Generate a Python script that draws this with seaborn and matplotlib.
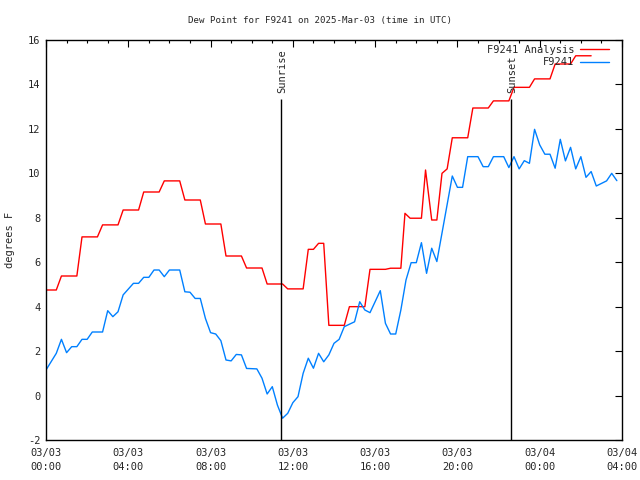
import matplotlib
matplotlib.use("Agg")
import matplotlib.pyplot as plt
import seaborn as sns
import pandas as pd
from matplotlib.lines import Line2D

# ---- data (hours after 2025-03-03 00:00 UTC, dew point in deg F) ----
analysis_hours = [0, 0.5, 0.75, 1.5, 1.75, 2.5, 2.75, 3.5, 3.75, 4.5, 4.75, 5.5, 5.75,
                  6.5, 6.75, 7.5, 7.75, 8.5, 8.75, 9.5, 9.75, 10.5, 10.75, 11.5, 11.75,
                  12.5, 12.75, 13.0, 13.25, 13.5, 13.75, 14.5, 14.75, 15.5, 15.75, 16.5,
                  16.75, 17.25, 17.45, 17.7, 18.25, 18.45, 18.75, 19.0, 19.25, 19.5,
                  19.75, 20.5, 20.75, 21.5, 21.75, 22.5, 22.75, 23.5, 23.75, 24.5,
                  24.75, 25.5, 25.75, 26.5]
analysis_dewpt = [4.75, 4.75, 5.38, 5.38, 7.14, 7.14, 7.68, 7.68, 8.35, 8.35, 9.16, 9.16,
                  9.66, 9.66, 8.8, 8.8, 7.72, 7.72, 6.28, 6.28, 5.74, 5.74, 5.02, 5.02,
                  4.8, 4.8, 6.58, 6.58, 6.85, 6.85, 3.16, 3.16, 4.0, 4.0, 5.68, 5.68,
                  5.73, 5.73, 8.2, 7.98, 7.98, 10.15, 7.9, 7.9, 10.0, 10.2, 11.6, 11.6,
                  12.94, 12.94, 13.26, 13.26, 13.87, 13.87, 14.25, 14.25, 14.92, 14.92,
                  15.29, 15.29]

obs_hours = [0.0, 0.5, 0.75, 1.0, 1.25, 1.5, 1.75, 2.0, 2.25, 2.75, 3.0, 3.25, 3.5, 3.75,
             4.25, 4.5, 4.75, 5.0, 5.25, 5.5, 5.75, 6.0, 6.5, 6.75, 7.0, 7.25, 7.5, 7.75,
             8.0, 8.25, 8.5, 8.75, 9.0, 9.25, 9.5, 9.75, 10.25, 10.5, 10.75, 11.0, 11.25,
             11.5, 11.75, 12.0, 12.25, 12.5, 12.75, 13.0, 13.25, 13.5, 13.75, 14.0, 14.25,
             14.5, 15.0, 15.25, 15.5, 15.75, 16.25, 16.5, 16.75, 17.0, 17.25, 17.5, 17.75,
             18.0, 18.25, 18.5, 18.75, 19.0, 19.75, 20.0, 20.25, 20.5, 21.0, 21.25, 21.5,
             21.75, 22.25, 22.5, 22.75, 23.0, 23.25, 23.5, 23.75, 24.0, 24.25, 24.5, 24.75,
             25.0, 25.25, 25.5, 25.75, 26.0, 26.25, 26.5, 26.75, 27.25, 27.5, 27.75]
obs_dewpt = [1.15, 1.9, 2.53, 1.93, 2.2, 2.2, 2.53, 2.53, 2.86, 2.86, 3.82, 3.55, 3.77, 4.53,
             5.05, 5.05, 5.32, 5.32, 5.65, 5.65, 5.35, 5.65, 5.65, 4.67, 4.65, 4.37, 4.37, 3.47,
             2.83, 2.77, 2.47, 1.6, 1.56, 1.85, 1.83, 1.22, 1.2, 0.78, 0.07, 0.4, -0.43,
             -1.02, -0.8, -0.32, -0.05, 1.0, 1.68, 1.23, 1.9, 1.52, 1.83, 2.35, 2.53,
             3.1, 3.32, 4.22, 3.85, 3.73, 4.72, 3.25, 2.77, 2.77, 3.85, 5.2, 5.98,
             5.98, 6.88, 5.5, 6.63, 6.03, 9.88, 9.37, 9.37, 10.75, 10.75, 10.3, 10.3,
             10.75, 10.75, 10.26, 10.75, 10.2, 10.57, 10.45, 11.98, 11.28, 10.86, 10.86, 10.23,
             11.53, 10.56, 11.17, 10.2, 10.75, 9.82, 10.08, 9.43, 9.66, 10.0, 9.67]

series_names = ["F9241 Analysis", "F9241"]
series_colors = ["#ff0000", "#0080ff"]
sunrise_hour = 11.42
sunset_hour = 22.6
sun_line_top = 13.35
xtick_hours = [0, 4, 8, 12, 16, 20, 24, 28]
xtick_labels = ["03/03\n00:00", "03/03\n04:00", "03/03\n08:00", "03/03\n12:00",
                "03/03\n16:00", "03/03\n20:00", "03/04\n00:00", "03/04\n04:00"]
yticks = [-2, 0, 2, 4, 6, 8, 10, 12, 14, 16]
title = "Dew Point for F9241 on 2025-Mar-03 (time in UTC)"

df = pd.concat([
    pd.DataFrame({"hour": analysis_hours, "dewpt": analysis_dewpt, "series": series_names[0]}),
    pd.DataFrame({"hour": obs_hours, "dewpt": obs_dewpt, "series": series_names[1]}),
], ignore_index=True)

sns.set_style("white")
plt.rcParams["font.family"] = ["DejaVu Sans Mono", "DejaVu Sans"]
fs = 7.5

fig = plt.figure(figsize=(6.4, 4.8), dpi=100)
ax = fig.add_axes([46 / 640, 40 / 480, 576 / 640, 400 / 480])

palette = dict(zip(series_names, series_colors))
sns.lineplot(data=df, x="hour", y="dewpt", hue="series", palette=palette,
             sort=False, estimator=None, linewidth=1.0, ax=ax, legend=False)

ax.set_xlim(0, 28)
ax.set_ylim(-2, 16)
ax.set_xticks(xtick_hours)
ax.set_xticklabels(xtick_labels, fontsize=fs, linespacing=1.5)
ax.set_xticks(range(0, 29), minor=True)
ax.set_yticks(yticks)
ax.set_yticklabels([str(v) for v in yticks], fontsize=fs)
ax.tick_params(axis="both", which="both", direction="in", top=True, right=True,
               color="black", width=0.8)
ax.tick_params(axis="both", which="major", length=5)
ax.tick_params(axis="x", which="minor", length=2.5)
ax.tick_params(axis="x", which="major", pad=6)
ax.tick_params(axis="y", which="major", pad=4)
for s in ax.spines.values():
    s.set_color("black")
    s.set_linewidth(1.0)

ax.set_xlabel("")
ax.set_ylabel("degrees F", fontsize=fs)
ax.yaxis.set_label_coords(-0.054, 0.5)
fig.text(0.5, 1 - 20 / 480, title, ha="center", va="center", fontsize=6.6)

# sunrise / sunset markers
for h, lab in [(sunrise_hour, "Sunrise"), (sunset_hour, "Sunset")]:
    ax.vlines(h, -2, sun_line_top, colors="black", linewidth=1.0)
    ax.text(h + 0.08, sun_line_top + 0.25, lab, rotation=90, ha="center", va="bottom",
            fontsize=fs)

handles = [Line2D([], [], color=c, linewidth=1.0) for c in series_colors]
ax.legend(handles, series_names, loc="upper right", frameon=False, markerfirst=False,
          fontsize=fs, handlelength=2.8, handletextpad=0.5, labelspacing=0.2,
          borderaxespad=0.0, borderpad=0.2, bbox_to_anchor=(1 - 11 / 576, 1 - 3 / 400))

fig.savefig("out.png", dpi=100)
